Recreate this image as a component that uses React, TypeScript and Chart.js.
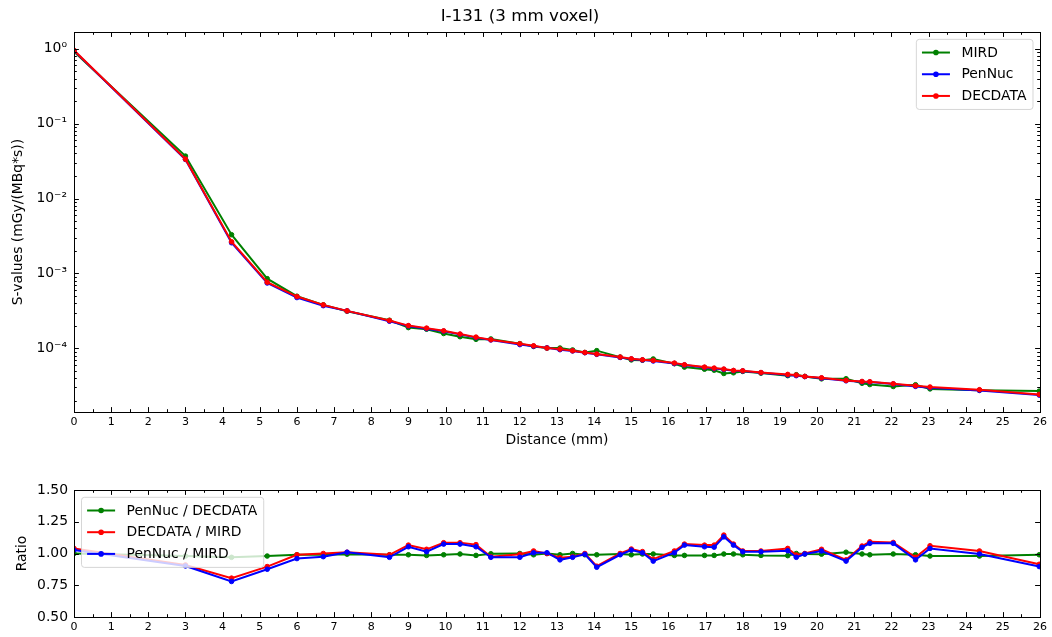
import React, { useEffect, useRef } from 'react';
import { Chart, registerables } from 'chart.js';

Chart.register(...registerables);

// ---------- data ----------
const distances = [0, 3, 4.24, 5.2, 6, 6.71, 7.35, 8.49, 9, 9.49, 9.95, 10.39, 10.82, 11.22, 12, 12.37, 12.73, 13.08, 13.42, 13.75, 14.07, 14.7, 15, 15.3, 15.59, 16.16, 16.43, 16.97, 17.23, 17.49, 17.75, 18, 18.49, 19.21, 19.44, 19.67, 20.12, 20.78, 21.21, 21.42, 22.05, 22.65, 23.04, 24.37, 25.98];

const mird = [0.918, 0.0369, 0.00329, 0.000851, 0.000496, 0.00038, 0.000313, 0.000237, 0.000189, 0.00018,
  0.0001576, 0.0001429, 0.0001318, 0.0001333, 0.0001155, 0.0001059, 0.0001007, 0.0001008, 0.0000951, 0.0000879,
  0.000093, 0.0000763, 0.00007, 0.0000693, 0.000072, 0.0000623, 0.0000561, 0.0000526, 0.000051, 0.0000461,
  0.0000471, 0.0000491, 0.0000466, 0.0000431, 0.0000444, 0.0000421, 0.0000391, 0.0000392, 0.0000341, 0.0000328,
  0.0000309, 0.0000326, 0.0000287, 0.0000275, 0.0000268];

const pennuc = [0.943, 0.0333, 0.00257, 0.000745, 0.000476, 0.000371, 0.000316, 0.00023, 0.000199, 0.000183,
  0.0001693, 0.0001535, 0.0001388, 0.0001293, 0.000112, 0.0001065, 0.0001013, 0.0000958, 0.0000922, 0.0000874,
  0.000083, 0.0000755, 0.0000719, 0.0000697, 0.0000677, 0.0000626, 0.0000598, 0.0000554, 0.0000536, 0.0000522,
  0.0000502, 0.0000498, 0.0000472, 0.000044, 0.0000431, 0.0000419, 0.0000399, 0.0000368, 0.0000357, 0.0000354,
  0.0000334, 0.000031, 0.0000298, 0.0000274, 0.0000237];

const decdata = [0.955, 0.0336, 0.00265, 0.000763, 0.000491, 0.00038, 0.000316, 0.000235, 0.000201, 0.000186,
  0.000171, 0.000155, 0.000141, 0.00013, 0.0001148, 0.000108, 0.0001007, 0.0000975, 0.0000927, 0.0000879,
  0.0000837, 0.0000763, 0.0000724, 0.0000703, 0.0000688, 0.0000635, 0.0000603, 0.0000561, 0.0000544, 0.0000528,
  0.0000506, 0.0000501, 0.0000475, 0.0000448, 0.0000439, 0.0000421, 0.0000404, 0.0000372, 0.0000361, 0.0000358,
  0.0000336, 0.0000316, 0.0000304, 0.000028, 0.0000242];

const ratioPenDec = [1.0, 0.98, 0.97, 0.98, 0.99, 0.99, 0.995, 0.99, 0.99, 0.985,
  0.99, 0.996, 0.985, 0.998, 1.0, 0.99, 1.0, 0.99, 1.0, 0.99,
  0.99, 0.996, 0.99, 0.996, 0.996, 0.985, 0.985, 0.985, 0.985, 0.996,
  0.996, 0.99, 0.985, 0.983, 1.0, 0.996, 0.995, 1.01, 0.996, 0.99,
  0.996, 0.99, 0.98, 0.98, 0.99];

const ratioDecMird = [1.04, 0.91, 0.806, 0.897, 0.99, 1.0, 1.01, 0.99, 1.066, 1.033,
  1.085, 1.085, 1.07, 0.975, 0.994, 1.02, 1.0, 0.967, 0.975, 1.0,
  0.9, 1.0, 1.035, 1.015, 0.955, 1.02, 1.074, 1.066, 1.066, 1.145,
  1.074, 1.02, 1.02, 1.04, 0.988, 1.0, 1.033, 0.95, 1.059, 1.092,
  1.087, 0.97, 1.061, 1.02, 0.915];

const ratioPenMird = [1.027, 0.902, 0.78, 0.876, 0.96, 0.975, 1.01, 0.97, 1.053, 1.014,
  1.074, 1.074, 1.053, 0.97, 0.97, 1.006, 1.006, 0.95, 0.97, 0.994,
  0.892, 0.99, 1.027, 1.006, 0.94, 1.006, 1.066, 1.053, 1.05, 1.131,
  1.066, 1.014, 1.014, 1.022, 0.97, 0.996, 1.02, 0.94, 1.048, 1.08,
  1.08, 0.95, 1.04, 0.996, 0.897];

const xRange = [0, 26];
const sRange = [1.41e-5, 1.675];
const ratioRange = [0.5, 1.5];

const chartTitle = 'I-131 (3 mm voxel)';
const xTitle = 'Distance (mm)';
const sTitle = 'S-values (mGy/(MBq*s))';
const ratioTitle = 'Ratio';

// ---------- styling ----------
const FONT = "'DejaVu Sans', 'Liberation Sans', sans-serif";
const GREEN = '#008000';
const BLUE = '#0000ff';
const RED = '#ff0000';

const SUP: Record<string, string> = { '0': '⁰', '1': '¹', '2': '²', '3': '³', '4': '⁴', '5': '⁵', '6': '⁶', '7': '⁷', '8': '⁸', '9': '⁹', '-': '⁻' };
const supText = (n: number) => String(n).split('').map((c) => SUP[c] || c).join('');

const pts = (ys: number[]) => distances.map((x, i) => ({ x, y: ys[i] }));

const lineDs = (label: string, color: string, ys: number[], order: number) => ({
  label,
  data: pts(ys),
  borderColor: color,
  backgroundColor: color,
  borderWidth: 2,
  pointRadius: 2.3,
  pointBorderWidth: 1,
  pointBackgroundColor: color,
  pointBorderColor: color,
  tension: 0,
  order,
});

// matplotlib-like inward ticks on all four sides + frame
const mplTicks = {
  id: 'mplTicks',
  afterDraw(chart: any, _a: any, opts: any) {
    const { ctx, chartArea: ca, scales } = chart;
    const xs = scales.x;
    const ys = scales.y;
    const MAJ = 4.9;
    const MIN = 2.8;
    ctx.save();
    ctx.strokeStyle = '#000';
    ctx.lineWidth = 1;
    ctx.beginPath();
    const vt = (v: number, len: number) => {
      const p = Math.round(xs.getPixelForValue(v)) + 0.5;
      ctx.moveTo(p, ca.top);
      ctx.lineTo(p, ca.top + len);
      ctx.moveTo(p, ca.bottom);
      ctx.lineTo(p, ca.bottom - len);
    };
    const ht = (v: number, len: number) => {
      const p = Math.round(ys.getPixelForValue(v)) + 0.5;
      ctx.moveTo(ca.left, p);
      ctx.lineTo(ca.left + len, p);
      ctx.moveTo(ca.right, p);
      ctx.lineTo(ca.right - len, p);
    };
    for (let v = xs.min; v <= xs.max + 1e-9; v += 0.5) {
      vt(v, Math.abs(v - Math.round(v)) < 1e-9 ? MAJ : MIN);
    }
    if (opts.log) {
      const k0 = Math.floor(Math.log10(ys.min));
      const k1 = Math.ceil(Math.log10(ys.max));
      for (let k = k0; k <= k1; k++) {
        for (let m = 1; m <= 9; m++) {
          const v = m * Math.pow(10, k);
          if (v >= ys.min && v <= ys.max) ht(v, m === 1 ? MAJ : MIN);
        }
      }
    } else {
      ys.ticks.forEach((t: any) => ht(t.value, MAJ));
    }
    ctx.stroke();
    ctx.strokeRect(Math.round(ca.left) + 0.5, Math.round(ca.top) + 0.5, Math.round(ca.right - ca.left), Math.round(ca.bottom - ca.top));
    ctx.restore();
  },
};

// matplotlib-like legend inside the axes
const mplLegend = {
  id: 'mplLegend',
  afterDraw(chart: any, _a: any, opts: any) {
    const { ctx, chartArea: ca } = chart;
    const fs = 13.9;
    ctx.save();
    ctx.font = `${fs}px ${FONT}`;
    const items = chart.data.datasets.map((ds: any) => ({ label: ds.label, color: ds.borderColor }));
    const textW = Math.max(...items.map((i: any) => ctx.measureText(i.label).width));
    const pad = 5.6;
    const handle = 28;
    const gap = 11.5;
    const rowH = 21.7;
    const w = pad + handle + gap + textW + pad + 1;
    const h = rowH * items.length + 5;
    const x0 = opts.corner === 'tr' ? ca.right - 7 - w : ca.left + 7.5;
    const y0 = ca.top + 7.3;
    const r = 3;
    ctx.beginPath();
    ctx.moveTo(x0 + r, y0);
    ctx.lineTo(x0 + w - r, y0);
    ctx.quadraticCurveTo(x0 + w, y0, x0 + w, y0 + r);
    ctx.lineTo(x0 + w, y0 + h - r);
    ctx.quadraticCurveTo(x0 + w, y0 + h, x0 + w - r, y0 + h);
    ctx.lineTo(x0 + r, y0 + h);
    ctx.quadraticCurveTo(x0, y0 + h, x0, y0 + h - r);
    ctx.lineTo(x0, y0 + r);
    ctx.quadraticCurveTo(x0, y0, x0 + r, y0);
    ctx.closePath();
    ctx.fillStyle = 'rgba(255,255,255,0.8)';
    ctx.fill();
    ctx.strokeStyle = 'rgba(204,204,204,0.8)';
    ctx.lineWidth = 1;
    ctx.stroke();
    items.forEach((it: any, i: number) => {
      const cy = y0 + 13.2 + i * rowH;
      ctx.strokeStyle = it.color;
      ctx.lineWidth = 2;
      ctx.beginPath();
      ctx.moveTo(x0 + pad, cy);
      ctx.lineTo(x0 + pad + handle, cy);
      ctx.stroke();
      ctx.fillStyle = it.color;
      ctx.beginPath();
      ctx.arc(x0 + pad + handle / 2, cy, 2.8, 0, Math.PI * 2);
      ctx.fill();
      ctx.fillStyle = '#000';
      ctx.textBaseline = 'middle';
      ctx.textAlign = 'left';
      ctx.fillText(it.label, x0 + pad + handle + gap, cy + 0.5);
    });
    ctx.restore();
  },
};

const xScale = (height: number, pad: number) => ({
  type: 'linear',
  min: xRange[0],
  max: xRange[1],
  grid: { display: false, drawTicks: false },
  border: { display: false },
  ticks: {
    stepSize: 1,
    autoSkip: false,
    maxRotation: 0,
    color: '#000',
    font: { size: 11, family: FONT },
    padding: pad,
    callback: (v: any) => String(v),
  },
  afterFit: (s: any) => {
    s.height = height;
  },
});

export default function App() {
  const topRef = useRef<HTMLCanvasElement>(null);
  const botRef = useRef<HTMLCanvasElement>(null);

  useEffect(() => {
    Chart.defaults.font.family = FONT;
    Chart.defaults.color = '#000';

    const top = new Chart(topRef.current as HTMLCanvasElement, {
      type: 'line',
      data: {
        datasets: [
          lineDs('MIRD', GREEN, mird, 2),
          lineDs('PenNuc', BLUE, pennuc, 1),
          lineDs('DECDATA', RED, decdata, 0),
        ],
      },
      options: {
        responsive: false,
        animation: false,
        events: [],
        layout: { padding: { left: 0, right: 12, top: 0, bottom: 0 }, autoPadding: false },
        plugins: {
          legend: { display: false },
          tooltip: { enabled: false },
          title: {
            display: true,
            text: chartTitle,
            color: '#000',
            font: { size: 16.7, weight: 'normal', family: FONT },
            padding: { top: 7, bottom: 5 },
          },
          mplLegend: { corner: 'tr' },
          mplTicks: { log: true },
        },
        scales: {
          x: {
            ...xScale(38, 4),
            title: {
              display: true,
              text: xTitle,
              color: '#000',
              font: { size: 13.9, family: FONT },
              padding: { top: 0, bottom: 1.5 },
            },
          },
          y: {
            type: 'logarithmic',
            min: sRange[0],
            max: sRange[1],
            grid: { display: false, drawTicks: false },
            border: { display: false },
            ticks: {
              autoSkip: false,
              color: '#000',
              font: { size: 13.9, family: FONT },
              padding: 7,
              callback: (v: any) => {
                const l = Math.log10(Number(v));
                if (Math.abs(l - Math.round(l)) < 1e-6) return '10' + supText(Math.round(l));
                return '';
              },
            },
            title: {
              display: true,
              text: sTitle,
              color: '#000',
              font: { size: 13.9, family: FONT },
              padding: { top: 9.7, bottom: 0 },
            },
            afterFit: (s: any) => {
              s.width = 74;
            },
          },
        },
      } as any,
      plugins: [mplTicks, mplLegend],
    });

    const bot = new Chart(botRef.current as HTMLCanvasElement, {
      type: 'line',
      data: {
        datasets: [
          lineDs('PenNuc / DECDATA', GREEN, ratioPenDec, 2),
          lineDs('DECDATA / MIRD', RED, ratioDecMird, 1),
          lineDs('PenNuc / MIRD', BLUE, ratioPenMird, 0),
        ],
      },
      options: {
        responsive: false,
        animation: false,
        events: [],
        layout: { padding: { left: 0, right: 12, top: 40, bottom: 0 }, autoPadding: false },
        plugins: {
          legend: { display: false },
          tooltip: { enabled: false },
          title: { display: false },
          mplLegend: { corner: 'tl' },
          mplTicks: { log: false },
        },
        scales: {
          x: xScale(20, 3.5),
          y: {
            type: 'linear',
            min: ratioRange[0],
            max: ratioRange[1],
            grid: { display: false, drawTicks: false },
            border: { display: false },
            ticks: {
              stepSize: 0.25,
              autoSkip: false,
              color: '#000',
              font: { size: 13.9, family: FONT },
              padding: 6,
              callback: (v: any) => Number(v).toFixed(2),
            },
            title: {
              display: true,
              text: ratioTitle,
              color: '#000',
              font: { size: 13.9, family: FONT },
              padding: { top: 14.2, bottom: 0 },
            },
            afterFit: (s: any) => {
              s.width = 74;
            },
          },
        },
      } as any,
      plugins: [mplTicks, mplLegend],
    });

    return () => {
      top.destroy();
      bot.destroy();
    };
  }, []);

  return (
    <div style={{ position: 'absolute', left: 0, top: 0, width: 1052, height: 637, background: '#fff', overflow: 'hidden' }}>
      <canvas ref={topRef} width={1052} height={450} style={{ position: 'absolute', left: 0, top: 0, width: 1052, height: 450 }} />
      <canvas ref={botRef} width={1052} height={187} style={{ position: 'absolute', left: 0, top: 450, width: 1052, height: 187 }} />
    </div>
  );
}
